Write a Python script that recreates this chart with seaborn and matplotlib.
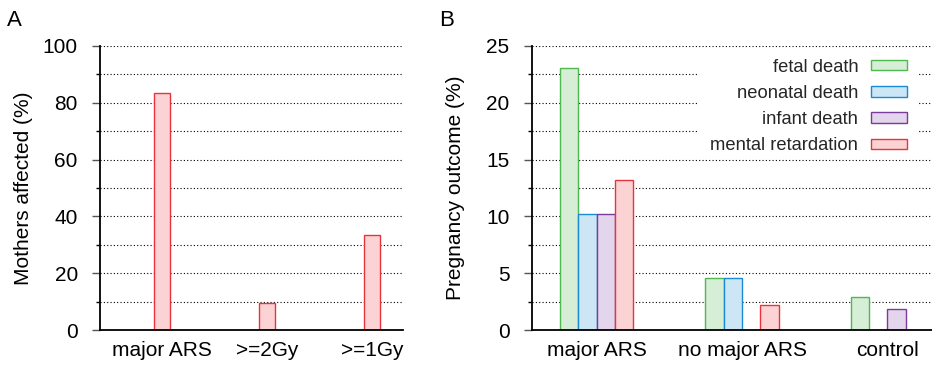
import numpy as np
import pandas as pd
import matplotlib
matplotlib.use('Agg')
import matplotlib.pyplot as plt
import seaborn as sns
from matplotlib.ticker import MultipleLocator
from matplotlib.patches import Patch, Rectangle

# ---- data ----
a_categories = ['major ARS', '>=2Gy', '>=1Gy']
a_values = [83.3, 9.4, 33.3]

b_groups = ['major ARS', 'no major ARS', 'control']
b_series = ['fetal death', 'neonatal death', 'infant death', 'mental retardation']
fetal_death = [23.1, 4.55, 2.93]
neonatal_death = [10.2, 4.55, np.nan]
infant_death = [10.2, np.nan, 1.82]
mental_retardation = [13.2, 2.2, np.nan]

edge_colors = ['#4fb84f', '#1a8ad4', '#7b3b9b', '#e8333d']
fill_colors = ['#d6eed6', '#cde6f5', '#e3d5eb', '#fcd3d4']

sns.set_theme(style='white')
plt.rcParams['font.family'] = ['Liberation Sans', 'DejaVu Sans']

fig = plt.figure(figsize=(9.32, 3.67), dpi=100)
axA = fig.add_axes([0.1073, 0.1008, 0.3251, 0.7739])
axB = fig.add_axes([0.5705, 0.1008, 0.4290, 0.7739])

# ---- panel A ----
dfA = pd.DataFrame({'group': a_categories, 'value': a_values})
sns.barplot(data=dfA, x='group', y='value', order=a_categories, ax=axA,
            width=0.152, color=fill_colors[3], saturation=1, errorbar=None,
            edgecolor=edge_colors[3], linewidth=1.0)

# ---- panel B ----
rows = []
for s, vals in zip(b_series, [fetal_death, neonatal_death, infant_death, mental_retardation]):
    for g, v in zip(b_groups, vals):
        rows.append({'group': g, 'series': s, 'value': v})
dfB = pd.DataFrame(rows)
sns.barplot(data=dfB, x='group', y='value', hue='series', order=b_groups,
            hue_order=b_series, palette=fill_colors, width=0.504, saturation=1,
            errorbar=None, linewidth=1.0, ax=axB, legend=False)
for cont, ec in zip(axB.containers, edge_colors):
    for p in cont:
        p.set_edgecolor(ec)
        p.set_linewidth(1.0)

# ---- axes styling ----
for ax, ymax, major, minor in [(axA, 100, 20, 10), (axB, 25, 5, 2.5)]:
    ax.set_ylim(0, ymax)
    ax.yaxis.set_major_locator(MultipleLocator(major))
    ax.yaxis.set_minor_locator(MultipleLocator(minor))
    ax.grid(True, which='both', axis='y', color='black',
            linestyle=(0, (1, 2)), linewidth=0.8)
    ax.grid(False, axis='x')
    ax.set_axisbelow(True)
    ax.tick_params(axis='y', which='both', left=True, direction='out')
    ax.tick_params(axis='y', which='major', length=6, width=1.0,
                   color='#555555', labelsize=15, pad=10, labelcolor='black')
    ax.tick_params(axis='y', which='minor', length=3, width=1.0, color='black')
    ax.tick_params(axis='x', length=0, labelsize=15, pad=8, labelcolor='black')
    for sp in ['top', 'right']:
        ax.spines[sp].set_visible(False)
    for sp in ['left', 'bottom']:
        ax.spines[sp].set_color('black')
        ax.spines[sp].set_linewidth(1.3)
    ax.set_xlabel('')

axA.set_xlim(-0.59, 2.295)
axB.set_xlim(-0.448, 2.305)

axA.set_ylabel('Mothers affected (%)', fontsize=15, color='black')
axB.set_ylabel('Pregnancy outcome (%)', fontsize=15, color='black')
axA.yaxis.set_label_coords(-0.221, 0.5)
axB.yaxis.set_label_coords(-0.167, 0.5)

# legend background blanking grid lines
axB.add_patch(Rectangle((0.413, 0.616), 0.553, 0.377, transform=axB.transAxes,
                        facecolor='white', edgecolor='none', zorder=1))
handles = [Patch(facecolor=f, edgecolor=e, linewidth=1.0)
           for f, e in zip(fill_colors, edge_colors)]
leg = axB.legend(handles, b_series, loc='upper right', bbox_to_anchor=(0.939, 0.955),
                 frameon=False, markerfirst=False, fontsize=13.2, borderpad=0,
                 borderaxespad=0, handlelength=1.97, handleheight=0.5,
                 handletextpad=0.7, labelspacing=0.5)
leg.set_zorder(3)

fig.text(0.0072, 0.929, 'A', fontsize=16, color='black', va='baseline')
fig.text(0.471, 0.929, 'B', fontsize=16, color='black', va='baseline')

fig.savefig('out.png', dpi=100)
